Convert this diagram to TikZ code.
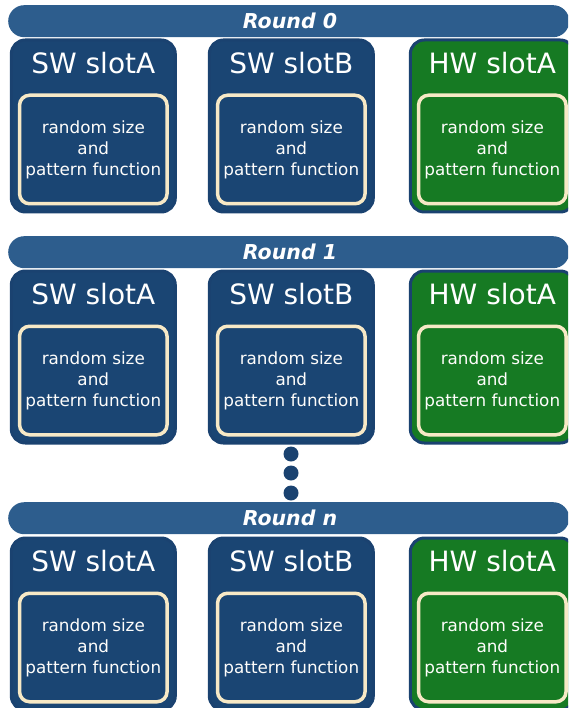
\documentclass[tikz,border=0pt]{standalone}
\usepackage{fontspec}
\setmainfont{DejaVu Sans}
\definecolor{barblue}{HTML}{2D5D8D}
\definecolor{slotblue}{HTML}{1A4573}
\definecolor{slotedge}{HTML}{1A4270}
\definecolor{hwgreen}{HTML}{167A23}
\definecolor{cream}{HTML}{F7E9C6}
\begin{document}
\begin{tikzpicture}[x=1pt,y=-1pt,
  roundbar/.style={fill=barblue, rounded corners=16pt, minimum width=561pt, minimum height=32pt,
    inner sep=0pt, anchor=north west},
  roundlabel/.style={text=white, font=\fontsize{20.5}{24}\selectfont\bfseries\itshape, inner sep=0pt},
  slotbox/.style={draw=slotedge, line width=3pt, fill=slotblue, rounded corners=14pt,
    minimum width=164pt, minimum height=172pt, anchor=north west, inner sep=0pt},
  hwbox/.style={slotbox, fill=hwgreen},
  slottitle/.style={text=white, font=\fontsize{28}{32}\selectfont, inner sep=0pt},
  innerbox/.style={draw=cream, line width=3.5pt, rounded corners=10pt, minimum width=147.5pt,
    minimum height=108.5pt, inner sep=0pt, align=center, text=white!93!cream,
    font=\fontsize{16.8}{21}\selectfont},
  dotnode/.style={circle, fill=slotedge, minimum size=15pt, inner sep=0pt}
]
\clip (0,0) rectangle (568,708);
\foreach \r/\bar/\top/\lab in {0/5/37/0, 1/236/268/1, n/502/535/n}{
  \node[roundbar] (bar\r) at (8,\bar) {};
  \node[roundlabel] (lab\r) at (290,\bar+16) {Round \lab};
  \foreach \c/\x/\t/\st in {A/9.8/SW slotA/slotbox, B/207.8/SW slotB/slotbox, H/408.8/HW slotA/hwbox}{
    \node[\st] (box\r\c) at (\x,\top+1.5) {};
    \node[slottitle] (title\r\c) at ([yshift=-25pt]box\r\c.north) {\t};
    \node[innerbox] (inner\r\c) at ([yshift=-111pt]box\r\c.north) {random size\\and\\pattern function};
  }
}
\node[dotnode] (d1) at (291,454) {};
\node[dotnode] (d2) at (291,473) {};
\node[dotnode] (d3) at (291,493) {};
\end{tikzpicture}
\end{document}
